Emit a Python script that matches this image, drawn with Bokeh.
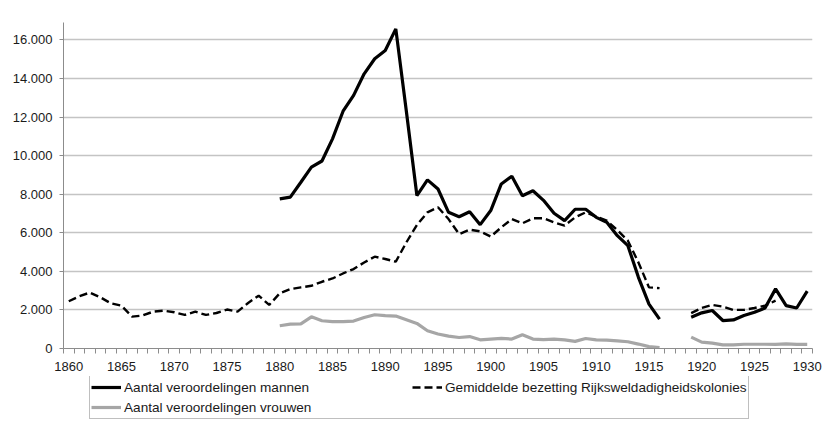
from bokeh.plotting import figure
from bokeh.layouts import column
from bokeh.models import (ColumnDataSource, FixedTicker, Legend, LegendItem, Range1d)
from bokeh.embed import file_html
from bokeh.resources import INLINE

# ---------------- data ----------------
years = list(range(1860, 1931))

mannen = ([None] * 20 +
          [7760, 7850, 8620, 9400, 9720, 10870, 12300, 13120, 14240, 15020,
           15450, 16570, 12300, 7930, 8740, 8270, 7060, 6830, 7090, 6420,
           7150, 8530, 8930, 7920, 8180, 7680, 7010, 6630, 7220, 7220,
           6800, 6540, 5850, 5330, 3690, 2300, 1520] +
          [None, None] +
          [1620, 1850, 1970, 1450, 1480, 1710, 1880, 2100, 3090, 2220, 2100, 2970])

bezetting = ([2450, 2710, 2900, 2650, 2340, 2220, 1650, 1710, 1910, 1960,
              1880, 1740, 1910, 1740, 1840, 2020, 1910, 2360, 2740, 2260,
              2860, 3080, 3170, 3250, 3460, 3630, 3890, 4120, 4460, 4760,
              4640, 4500, 5500, 6400, 7060, 7320, 6710, 5930, 6160, 6070,
              5800, 6280, 6710, 6490, 6750, 6750, 6540, 6370, 6800, 7060,
              6830, 6630, 6140, 5590, 4460, 3170, 3130] +
             [None, None] +
             [1830, 2100, 2260, 2170, 2000, 2000, 2100, 2220, 2480] +
             [None, None, None])

vrouwen = ([None] * 20 +
           [1180, 1260, 1280, 1640, 1440, 1390, 1390, 1420, 1610, 1750,
            1700, 1680, 1490, 1300, 920, 750, 640, 570, 620, 450,
            490, 520, 490, 710, 490, 460, 490, 450, 370, 520,
            450, 430, 400, 350, 230, 100, 50] +
           [None, None] +
           [590, 330, 280, 190, 190, 220, 220, 220, 210, 240, 210, 210])

x_tick_years = [1860, 1865, 1870, 1875, 1880, 1885, 1890, 1895, 1900,
                1905, 1910, 1915, 1920, 1925, 1930]
y_ticks = [0, 2000, 4000, 6000, 8000, 10000, 12000, 14000, 16000]
y_tick_labels = ["0", "2.000", "4.000", "6.000", "8.000", "10.000",
                 "12.000", "14.000", "16.000"]

label_m = "Aantal veroordelingen mannen"
label_b = "Gemiddelde bezetting Rijksweldadigheidskolonies"
label_v = "Aantal veroordelingen vrouwen"


def nan(v):
    return [float("nan") if a is None else a for a in v]


src = ColumnDataSource(dict(year=years, m=nan(mannen), b=nan(bezetting), v=nan(vrouwen)))

FONT = "Liberation Sans"
STYLE_M = dict(line_color="black", line_width=3.2)
STYLE_B = dict(line_color="black", line_width=2.4, line_dash="8 4")
STYLE_V = dict(line_color="#a6a6a6", line_width=3.2)

p = figure(width=827, height=376, output_backend="svg", toolbar_location=None,
           x_range=Range1d(1859.5, 1930.5), y_range=Range1d(0, 16900),
           min_border_left=63, min_border_right=15, min_border_top=22,
           min_border_bottom=28)
p.outline_line_color = None
p.background_fill_color = "white"
p.border_fill_color = "white"

p.line("year", "v", source=src, **STYLE_V)
p.line("year", "b", source=src, **STYLE_B)
p.line("year", "m", source=src, **STYLE_M)

# x axis
p.xaxis.ticker = FixedTicker(ticks=x_tick_years,
                             minor_ticks=[y - 0.5 for y in years] + [1930.5])
p.xaxis.major_label_overrides = {y: str(y) for y in x_tick_years}
p.xaxis.major_tick_out = 0
p.xaxis.major_tick_in = 0
p.xaxis.minor_tick_out = 5
p.xaxis.minor_tick_in = 0
p.xaxis.major_label_standoff = 8
p.xaxis.axis_line_color = "#8c8c8c"
p.xaxis.minor_tick_line_color = "#8c8c8c"
p.xaxis.major_label_text_font = FONT
p.xaxis.major_label_text_font_size = "13px"
p.xaxis.major_label_text_color = "#1a1a1a"

# y axis
p.yaxis.ticker = FixedTicker(ticks=y_ticks, minor_ticks=[])
p.yaxis.major_label_overrides = dict(zip(y_ticks, y_tick_labels))
p.yaxis.major_tick_out = 4
p.yaxis.major_tick_in = 0
p.yaxis.minor_tick_out = 0
p.yaxis.major_label_standoff = 7
p.yaxis.axis_line_color = "#8c8c8c"
p.yaxis.major_tick_line_color = "#8c8c8c"
p.yaxis.major_label_text_font = FONT
p.yaxis.major_label_text_font_size = "13px"
p.yaxis.major_label_text_color = "#1a1a1a"

p.xgrid.grid_line_color = None
p.ygrid.grid_line_color = "#c4c4c4"
p.ygrid.grid_line_width = 1.3

# ---------------- legend panel ----------------
# (same series drawn out of view here; only the legend of this strip is visible)
lg = figure(width=827, height=46, output_backend="svg", toolbar_location=None,
            x_range=Range1d(0, 1), y_range=Range1d(-1, 0),
            x_axis_location=None, y_axis_location=None,
            min_border_left=63, min_border_right=15, min_border_top=0,
            min_border_bottom=0)
lg.outline_line_color = None
lg.grid.grid_line_color = None
lg.background_fill_color = "white"
lg.border_fill_color = "white"

l_m = lg.line("year", "m", source=src, **STYLE_M)
l_b = lg.line("year", "b", source=src, **STYLE_B)
l_v = lg.line("year", "v", source=src, **STYLE_V)

legend = Legend(items=[LegendItem(label=label_m, renderers=[l_m]),
                       LegendItem(label=label_b, renderers=[l_b]),
                       LegendItem(label=label_v, renderers=[l_v])],
                orientation="horizontal", ncols=2,
                location=(26, 3), glyph_width=30, glyph_height=20,
                label_standoff=3, label_width=288, label_height=20,
                spacing=0, padding=1, margin=0,
                label_text_font=FONT, label_text_font_size="13.6px",
                label_text_color="#1a1a1a", border_line_color="#7f7f7f",
                border_line_width=1, background_fill_alpha=1)
lg.add_layout(legend, "center")

layout = column(p, lg, spacing=0)
open("out.html", "w").write(file_html(layout, INLINE))
